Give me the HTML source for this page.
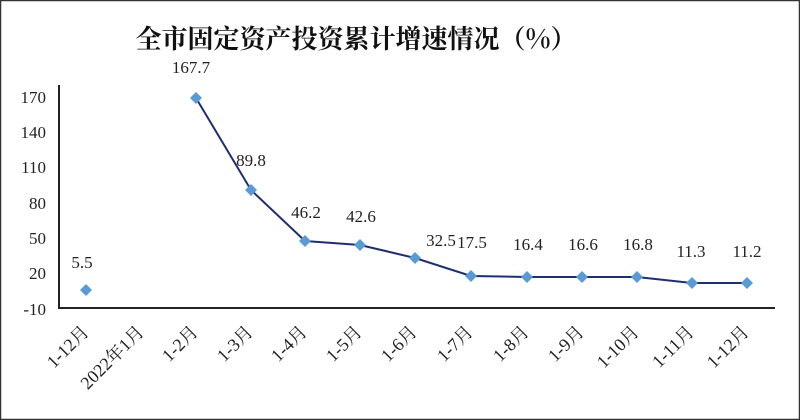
<!DOCTYPE html>
<html><head><meta charset="utf-8"><style>
body{margin:0;background:#fff}
svg{display:block}
text{font-family:"Liberation Serif","Noto Serif CJK SC",serif;fill:#222}
</style></head><body>
<svg width="800" height="420" viewBox="0 0 800 420">
<rect x="0.5" y="0.5" width="799" height="419" fill="#fff" stroke="#333" stroke-width="1.5"/>
<text x="356" y="48" text-anchor="middle" style="font-family:'Noto Serif CJK SC',serif;font-weight:bold;font-size:26px;fill:#111">全市固定资产投资累计增速情况（%）</text>
<path d="M59 85 V308 H775" fill="none" stroke="#222" stroke-width="2"/>
<g font-size="17" text-anchor="end">
<text x="46" y="103">170</text><text x="46" y="138">140</text><text x="46" y="173">110</text>
<text x="46" y="209">80</text><text x="46" y="244">50</text><text x="46" y="279">20</text><text x="46" y="315">-10</text>
</g>
<polyline fill="none" stroke="#1f2f6e" stroke-width="2" points="196,98 251,190 305,241 360,245 415,258 471,276 527,277 582,277 637,277 692,283 747,283"/>
<g fill="#5b9bd5">
<path d="M86 284 l6 6 l-6 6 l-6 -6z"/>
<path d="M196 92 l6 6 l-6 6 l-6 -6z"/><path d="M251 184 l6 6 l-6 6 l-6 -6z"/>
<path d="M305 235 l6 6 l-6 6 l-6 -6z"/><path d="M360 239 l6 6 l-6 6 l-6 -6z"/>
<path d="M415 252 l6 6 l-6 6 l-6 -6z"/><path d="M471 270 l6 6 l-6 6 l-6 -6z"/>
<path d="M527 271 l6 6 l-6 6 l-6 -6z"/><path d="M582 271 l6 6 l-6 6 l-6 -6z"/>
<path d="M637 271 l6 6 l-6 6 l-6 -6z"/><path d="M692 277 l6 6 l-6 6 l-6 -6z"/>
<path d="M747 277 l6 6 l-6 6 l-6 -6z"/>
</g>
<g font-size="17" text-anchor="middle">
<text x="82" y="268">5.5</text><text x="191" y="73">167.7</text><text x="251" y="166">89.8</text>
<text x="306" y="218">46.2</text><text x="361" y="222">42.6</text><text x="441" y="246">32.5</text>
<text x="472" y="248">17.5</text><text x="528" y="250">16.4</text><text x="583" y="250">16.6</text>
<text x="638" y="250">16.8</text><text x="691" y="257">11.3</text><text x="747" y="257">11.2</text>
</g>
<g font-size="18" text-anchor="end" style="font-family:'Liberation Serif','Noto Serif CJK SC',serif">
<text transform="translate(90,333) rotate(-45)">1-12月</text>
<text transform="translate(145,333) rotate(-45)">2022年1月</text>
<text transform="translate(199,333) rotate(-45)">1-2月</text>
<text transform="translate(254,333) rotate(-45)">1-3月</text>
<text transform="translate(308,333) rotate(-45)">1-4月</text>
<text transform="translate(363,333) rotate(-45)">1-5月</text>
<text transform="translate(418,333) rotate(-45)">1-6月</text>
<text transform="translate(474,333) rotate(-45)">1-7月</text>
<text transform="translate(530,333) rotate(-45)">1-8月</text>
<text transform="translate(585,333) rotate(-45)">1-9月</text>
<text transform="translate(640,333) rotate(-45)">1-10月</text>
<text transform="translate(695,333) rotate(-45)">1-11月</text>
<text transform="translate(750,333) rotate(-45)">1-12月</text>
</g>
</svg>
</body></html>
